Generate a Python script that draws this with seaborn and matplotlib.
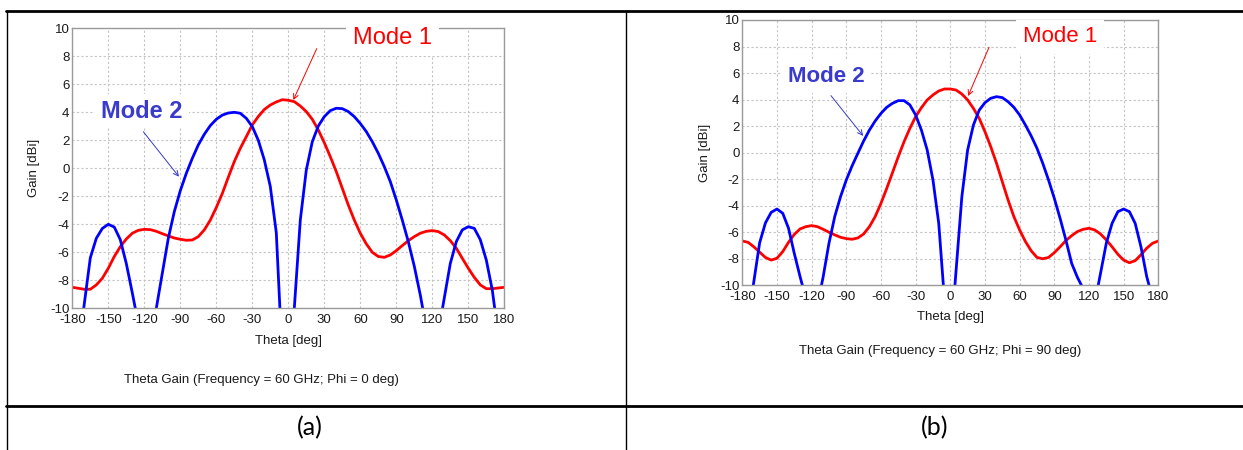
import numpy as np
import pandas as pd
import seaborn as sns
import matplotlib.pyplot as plt
from matplotlib.lines import Line2D

# ---- data (theta in deg, gain in dBi) ----
theta_red = list(range(-180, 181, 5))

# (a) Phi = 0 deg
gain_red_a = [-8.5, -8.57, -8.64, -8.64, -8.33, -7.86, -7.14, -6.3, -5.6, -5.05,
              -4.64, -4.43, -4.36, -4.38, -4.5, -4.67, -4.83, -4.98, -5.07, -5.14,
              -5.12, -4.88, -4.4, -3.7, -2.8, -1.8, -0.64, 0.48, 1.43, 2.26,
              3.1, 3.7, 4.2, 4.52, 4.74, 4.9, 4.86, 4.76, 4.45, 4.05,
              3.5, 2.74, 1.83, 0.83, -0.24, -1.43, -2.62, -3.7, -4.64, -5.4,
              -6.0, -6.3, -6.36, -6.19, -5.88, -5.52, -5.17, -4.88, -4.64, -4.5,
              -4.45, -4.52, -4.76, -5.17, -5.71, -6.43, -7.14, -7.79, -8.33, -8.6,
              -8.6, -8.55, -8.5]

theta_blue_a = [-180, -170.5, -165, -160, -155, -150, -145, -140, -135, -130, -127.5,
                -118, -110, -105, -100, -95, -90, -85, -80, -75, -70, -65, -60,
                -55, -50, -45, -40, -35, -30, -25, -20, -15, -10, -7,
                -1, 5, 10, 15, 20, 25, 30, 35, 40, 45, 50, 55, 60, 65, 70, 75,
                80, 85, 90, 95, 100, 105, 110, 112,
                120, 128.5, 135, 140, 145, 150, 155, 160, 165, 170, 172, 180]
gain_blue_a = [-30, -10, -6.4, -5.0, -4.3, -4.0, -4.2, -5.1, -6.8, -8.9, -10,
               -30, -10, -7.5, -5.0, -3.1, -1.6, -0.36, 0.71, 1.67, 2.43, 3.05, 3.5,
               3.8, 3.95, 4.0, 3.93, 3.57, 2.98, 2.0, 0.6, -1.3, -4.6, -10,
               -30, -10, -3.7, -0.12, 1.9, 3.02, 3.69, 4.12, 4.29, 4.26, 4.05, 3.69, 3.2, 2.62, 1.9, 1.07,
               0.12, -0.95, -2.26, -3.7, -5.24, -7.0, -9.05, -10,
               -30, -10, -6.8, -5.24, -4.4, -4.17, -4.29, -5.1, -6.55, -8.7, -10, -30]

# (b) Phi = 90 deg
gain_red_b = [-6.66, -6.76, -7.1, -7.5, -7.9, -8.1, -7.96, -7.46, -6.76, -6.16,
              -5.75, -5.58, -5.5, -5.58, -5.78, -6.0, -6.2, -6.38, -6.48, -6.53,
              -6.43, -6.13, -5.58, -4.82, -3.82, -2.69, -1.5, -0.3, 0.83, 1.83,
              2.71, 3.39, 3.97, 4.35, 4.65, 4.8, 4.8, 4.72, 4.42, 3.97,
              3.34, 2.59, 1.58, 0.45, -0.8, -2.19, -3.57, -4.82, -5.83, -6.7,
              -7.4, -7.9, -8.0, -7.9, -7.54, -7.1, -6.63, -6.26, -5.95, -5.78,
              -5.7, -5.83, -6.13, -6.58, -7.1, -7.66, -8.1, -8.3, -8.14, -7.7,
              -7.2, -6.83, -6.66]

theta_blue_b = [-180, -170.5, -165, -160, -155, -150, -145, -140, -135, -130, -128,
                -120, -111.5, -110, -105, -100, -95, -90, -85, -80, -75, -70, -65, -60,
                -55, -50, -45, -40, -35, -30, -25, -20, -15, -10, -6,
                0, 4, 10, 15, 20, 25, 30, 35, 40, 45, 50, 55, 60, 65, 70, 75,
                80, 85, 90, 95, 100, 105, 110, 113.5,
                120, 128, 130, 135, 140, 145, 150, 155, 160, 165, 170, 172, 180]
gain_blue_b = [-30, -10, -6.8, -5.3, -4.5, -4.25, -4.57, -5.7, -7.6, -9.35, -10,
               -30, -10, -9.35, -6.83, -4.82, -3.32, -2.06, -1.0, -0.05, 0.88, 1.7, 2.39, 2.96,
               3.42, 3.72, 3.92, 3.92, 3.6, 2.84, 1.7, 0.2, -2.06, -5.33, -10,
               -30, -10, -3.32, 0.2, 2.08, 3.2, 3.77, 4.1, 4.22, 4.15, 3.84, 3.42, 2.84, 2.08, 1.26, 0.33,
               -0.8, -2.06, -3.44, -4.95, -6.58, -8.34, -9.4, -10,
               -30, -10, -9.1, -6.83, -5.33, -4.45, -4.25, -4.45, -5.33, -7.1, -9.35, -10, -30]

x_ticks = list(range(-180, 181, 30))
y_ticks = list(range(-10, 11, 2))
captions = ["Theta Gain (Frequency = 60 GHz; Phi = 0 deg)",
            "Theta Gain (Frequency = 60 GHz; Phi = 90 deg)"]
panel_labels = ["(a)", "(b)"]

sns.set_theme(style="white")
plt.rcParams["font.family"] = ["Liberation Sans", "DejaVu Sans"]
plt.rcParams["axes.unicode_minus"] = False

W, H = 1243, 450
fig = plt.figure(figsize=(W / 100, H / 100), dpi=100)


def frame(x0, y0, x1, y1):
    # pixel box -> figure fraction rect
    return [x0 / W, 1 - y1 / H, (x1 - x0) / W, (y1 - y0) / H]


def make_df(th_r, g_r, th_b, g_b):
    return pd.concat([
        pd.DataFrame({"theta": th_r, "gain": g_r, "mode": "Mode 1"}),
        pd.DataFrame({"theta": th_b, "gain": g_b, "mode": "Mode 2"}),
    ])


panels = [
    dict(rect=frame(72.3, 28.3, 504.3, 308.3),
         df=make_df(theta_red, gain_red_a, theta_blue_a, gain_blue_a),
         m1=(87, 9.3, 17), m1_arrow=((23.7, 8.55), (4.2, 4.88)),
         m2=(-122, 4.09, 17), m2_arrow=((-120.8, 2.61), (-91.1, -0.6)),
         ylab_x=-0.075, xlab_y=-0.095, cap=(261, 380)),
    dict(rect=frame(742.3, 20, 1158.3, 285.3),
         df=make_df(theta_red, gain_red_b, theta_blue_b, gain_blue_b),
         m1=(94.7, 8.72, 16), m1_arrow=((33.5, 7.94), (15.4, 4.27)),
         m2=(-107.6, 5.73, 16), m2_arrow=((-103.3, 4.3), (-75.4, 1.26)),
         ylab_x=-0.075, xlab_y=-0.095, cap=(940, 351)),
]

for i, p in enumerate(panels):
    ax = fig.add_axes(p["rect"])
    sns.lineplot(data=p["df"], x="theta", y="gain", hue="mode",
                 palette={"Mode 1": "#ff0000", "Mode 2": "#0000ff"},
                 estimator=None, linewidth=2.0, legend=False, ax=ax)
    ax.set_xlim(-180, 180)
    ax.set_ylim(-10, 10)
    ax.set_xticks(x_ticks)
    ax.set_yticks(y_ticks)
    ax.tick_params(length=0, labelsize=9.5, colors="#1a1a1a")
    ax.tick_params(axis="x", pad=4)
    ax.tick_params(axis="y", pad=2)
    ax.set_axisbelow(True)
    ax.grid(True, color="#c4c4c4", linestyle=(0, (2, 2)), linewidth=0.8)
    for s in ax.spines.values():
        s.set_color("#9a9a9a")
        s.set_linewidth(1.0)
    ax.set_xlabel("Theta [deg]", fontsize=9.5, color="#1a1a1a")
    ax.set_ylabel("Gain [dBi]", fontsize=9.5, color="#1a1a1a")
    ax.xaxis.set_label_coords(0.5, p["xlab_y"])
    ax.yaxis.set_label_coords(p["ylab_x"], 0.5)

    x, y, fs = p["m1"]
    ax.text(x, y, "Mode 1", color="#ff0000", fontsize=fs, ha="center", va="center",
            zorder=6, clip_on=False,
            bbox=dict(facecolor="white", edgecolor="none", boxstyle="square,pad=0.3"))
    ax.annotate("", xy=p["m1_arrow"][1], xytext=p["m1_arrow"][0],
                arrowprops=dict(arrowstyle="->", color="#ff0000", lw=0.7,
                                shrinkA=0, shrinkB=0, mutation_scale=9), zorder=6)
    x, y, fs = p["m2"]
    ax.text(x, y, "Mode 2", color="#3a3acc", fontsize=fs, fontweight="bold",
            ha="center", va="center", zorder=6,
            bbox=dict(facecolor="white", edgecolor="none", boxstyle="square,pad=0.25"))
    ax.annotate("", xy=p["m2_arrow"][1], xytext=p["m2_arrow"][0],
                arrowprops=dict(arrowstyle="->", color="#3a3acc", lw=0.7,
                                shrinkA=0, shrinkB=0, mutation_scale=9), zorder=6)

    cx, cy = p["cap"]
    fig.text(cx / W, 1 - cy / H, captions[i], ha="center", va="center",
             fontsize=9.5, color="#1a1a1a")

# table borders around the two panels
lw_thick, lw_thin = 2.0, 1.0
fig.add_artist(Line2D([6 / W, 1], [1 - 11 / H] * 2, color="black", lw=lw_thick))
fig.add_artist(Line2D([6 / W, 1], [1 - 406 / H] * 2, color="black", lw=lw_thick))
fig.add_artist(Line2D([6.5 / W] * 2, [0, 1 - 11 / H], color="black", lw=lw_thin))
fig.add_artist(Line2D([626 / W] * 2, [0, 1 - 11 / H], color="black", lw=lw_thin))

for lab, cx in zip(panel_labels, [310, 935]):
    fig.text(cx / W, 1 - 428 / H, lab, ha="center", va="center", fontsize=18,
             family=["Lato", "DejaVu Sans"], color="black")

fig.savefig("out.png", dpi=100)
